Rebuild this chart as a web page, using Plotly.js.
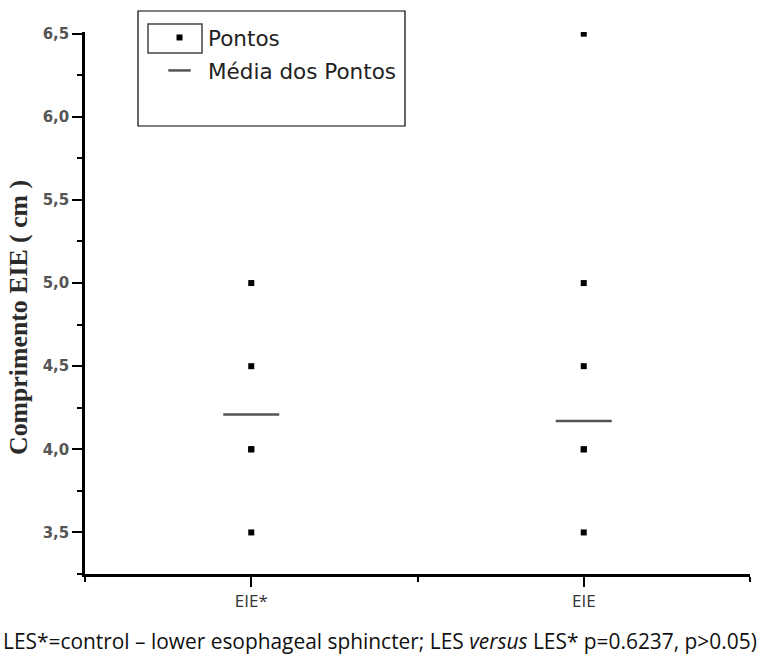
<!DOCTYPE html>
<html>
<head>
<meta charset="utf-8">
<script src="https://cdn.plot.ly/plotly-3.0.1.min.js"></script>
<style>html,body{margin:0;padding:0;background:#fff}#chart{width:771px;height:657px}</style>
</head>
<body>
<div id="chart"></div>
<script>
// ---- data ----
const groupPositions = [1, 2];
const groupLabels = ['EIE*', 'EIE'];
const pointsEIEstar = [3.5, 4.0, 4.0, 4.5, 5.0];
const pointsEIE = [3.5, 4.0, 4.0, 4.5, 5.0, 6.5];
const meanValues = [4.21, 4.17];
const seriesNames = ['Pontos', 'Média dos Pontos'];
const yTitle = 'Comprimento EIE ( cm )';
const caption = 'LES*=control – lower esophageal sphincter; LES <i>versus</i> LES* p=0.6237, p>0.05)';

const xPts = [], yPts = [];
pointsEIEstar.forEach(v => { xPts.push(groupPositions[0]); yPts.push(v); });
pointsEIE.forEach(v => { xPts.push(groupPositions[1]); yPts.push(v); });

const W = 771, H = 657;
const m = {l: 85, r: 21, t: 32, b: 83};
const pw = W - m.l - m.r, ph = H - m.t - m.b;
const px = x => (x - m.l) / pw;
const py = y => (H - m.b - y) / ph;

const traces = [
  {
    type: 'scatter', mode: 'markers', name: seriesNames[0],
    x: xPts, y: yPts, legendgroup: 'a',
    marker: {symbol: 'square', size: 6, color: '#000'},
    hoverinfo: 'x+y'
  },
  {
    type: 'scatter', mode: 'markers', name: seriesNames[1],
    x: groupPositions, y: meanValues, legendgroup: 'b',
    marker: {symbol: 'line-ew', size: 40, color: '#555', line: {width: 2.5, color: '#555'}},
    hoverinfo: 'x+y'
  }
];

const layout = {
  width: W, height: H,
  margin: m,
  paper_bgcolor: '#fff', plot_bgcolor: '#fff',
  separators: ',.',
  showlegend: true,
  legend: {
    x: px(151), xanchor: 'left', y: py(17), yanchor: 'top',
    bgcolor: 'rgba(0,0,0,0)', borderwidth: 0,
    font: {family: 'DejaVu Sans', size: 21.5, color: '#222'},
    traceorder: 'grouped', tracegroupgap: 2, itemwidth: 47
  },
  xaxis: {
    range: [0.5, 2.5],
    tickmode: 'array', tickvals: groupPositions, ticktext: groupLabels,
    ticks: 'outside', ticklen: 10, tickwidth: 1.5, tickcolor: '#000',
    minor: {tick0: 0.5, dtick: 1, ticks: 'outside', ticklen: 5, tickwidth: 1.5, tickcolor: '#000'},
    showline: true, linecolor: '#000', linewidth: 2.5,
    showgrid: false, zeroline: false,
    tickfont: {family: 'Open Sans', size: 17, color: '#333'}
  },
  yaxis: {
    range: [3.25, 6.51],
    tick0: 3.5, dtick: 0.5, tickformat: '.1f',
    ticks: 'outside', ticklen: 10, tickwidth: 1.5, tickcolor: '#000',
    minor: {dtick: 0.25, ticks: 'outside', ticklen: 5, tickwidth: 1.5, tickcolor: '#000'},
    showline: true, linecolor: '#000', linewidth: 2.5,
    showgrid: false, zeroline: false,
    tickfont: {family: 'DejaVu Sans', size: 15, color: '#555', weight: 'bold'}
  },
  shapes: [
    {type: 'rect', xref: 'paper', yref: 'paper', x0: px(138), x1: px(405), y0: py(126), y1: py(11),
     line: {color: '#000', width: 1.2}, fillcolor: 'rgba(0,0,0,0)'},
    {type: 'rect', xref: 'paper', yref: 'paper', x0: px(148), x1: px(202), y0: py(53), y1: py(24),
     line: {color: '#444', width: 1.5}, fillcolor: 'rgba(0,0,0,0)'}
  ],
  annotations: [
    {text: yTitle, xref: 'paper', yref: 'paper', x: px(18), y: py(318),
     xanchor: 'center', yanchor: 'middle', textangle: -90, showarrow: false,
     font: {family: 'Liberation Serif', size: 25.8, color: '#2a2a2a', weight: 'bold'}},
    {text: caption, xref: 'paper', yref: 'paper', x: px(1), y: py(641),
     xanchor: 'left', yanchor: 'middle', showarrow: false,
     font: {family: 'Open Sans', size: 20.9, color: '#111'}}
  ]
};

Plotly.newPlot('chart', traces, layout, {displayModeBar: false, responsive: false});
</script>
</body>
</html>
